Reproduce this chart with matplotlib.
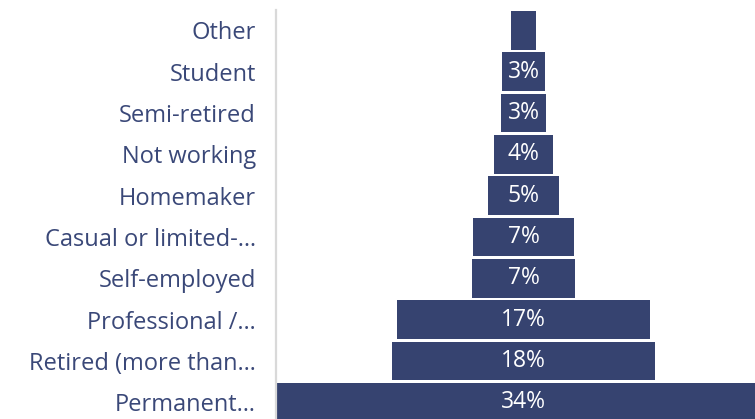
import matplotlib
matplotlib.use("Agg")
import matplotlib.pyplot as plt

# employment status, bottom to top
categories = [
    "Permanent\u2026",
    "Retired (more than\u2026",
    "Professional /\u2026",
    "Self-employed",
    "Casual or limited-\u2026",
    "Homemaker",
    "Not working",
    "Semi-retired",
    "Student",
    "Other",
]
shares = [34.0, 18.0, 17.3, 7.0, 6.9, 4.9, 4.0, 3.1, 2.9, 1.7]

bar_color = "#364370"
text_color = "#3a4878"

plt.rcParams["font.family"] = ["Open Sans", "DejaVu Sans"]

fig = plt.figure(figsize=(7.55, 4.19), dpi=100)
# axes runs past the right and bottom edges, so the widest bar gets clipped
ax = fig.add_axes([275.5 / 755, -4.0 / 419, 496 / 755, 413.3 / 419])

half = max(shares) / 2
ys = list(range(len(categories)))
lefts = [-s / 2 for s in shares]
ax.barh(ys, shares, left=lefts, height=0.936, color=bar_color)

for y, s in zip(ys, shares):
    if s >= 2.5:
        ax.text(0, y, f"{round(s)}%", ha="center", va="center",
                color="white", fontsize=16.5)

ax.set_xlim(-half, half)
ax.set_ylim(-0.5, len(categories) - 0.5)
ax.set_yticks(ys)
ax.set_yticklabels(categories, fontsize=17, color=text_color)
ax.tick_params(axis="y", length=0, pad=14)
ax.set_xticks([])

for side in ["top", "right", "bottom"]:
    ax.spines[side].set_visible(False)
ax.spines["left"].set_color("#d9d9d9")
ax.spines["left"].set_linewidth(1.6)

fig.savefig("out.png", dpi=100)
